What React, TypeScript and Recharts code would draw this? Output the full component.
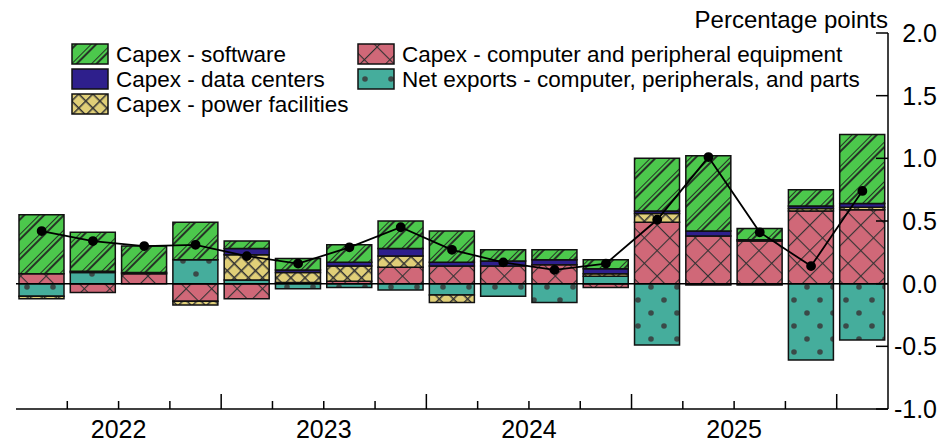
import { ComposedChart, Bar, Line, XAxis, YAxis, ReferenceLine } from "recharts";

const quarters = ["2022Q1","2022Q2","2022Q3","2022Q4","2023Q1","2023Q2","2023Q3","2023Q4","2024Q1","2024Q2","2024Q3","2024Q4","2025Q1","2025Q2","2025Q3","2025Q4","2026Q1"];
const computer = [0.08,-0.07,0.08,-0.14,-0.12,0.01,0.02,0.13,0.14,0.14,0.15,-0.03,0.49,0.38,0.34,0.58,0.59];
const netExports = [-0.1,0.09,0.01,0.19,0.03,-0.04,-0.03,-0.05,-0.09,-0.1,-0.15,0.06,-0.49,-0.01,-0.01,-0.61,-0.45];
const power = [-0.02,0,0,-0.03,0.2,0.08,0.12,0.09,-0.06,0,0,0.02,0.07,0,0,0.02,0.02];
const dataCenters = [0,0.01,0,0,0.05,0.02,0.03,0.06,0.03,0.04,0.04,0.04,0.02,0.04,0.01,0.02,0.03];
const software = [0.47,0.31,0.21,0.3,0.06,0.09,0.14,0.22,0.25,0.09,0.08,0.07,0.42,0.6,0.09,0.13,0.55];
const total = [0.42,0.34,0.3,0.31,0.22,0.16,0.29,0.45,0.27,0.17,0.11,0.16,0.51,1.01,0.41,0.14,0.74];
const yTicks = [-1, -0.5, 0, 0.5, 1, 1.5, 2];

const data = quarters.map((q, i) => ({
  q, computer: computer[i], netExports: netExports[i], power: power[i],
  dataCenters: dataCenters[i], software: software[i], total: total[i],
}));

const W = 930, H = 436;
const PL = 8, PR = 880, PB = 401;
const BW = (PR - PL) / quarters.length;
const FONT = "'Liberation Sans', Arial, sans-serif";

function Patterns() {
  return (
    <defs>
      <pattern id="pSoft" patternUnits="userSpaceOnUse" width="14" height="14" patternTransform="rotate(45)">
        <rect width="14" height="14" fill="#4cc84c" />
        <line x1="0" y1="0" x2="0" y2="14" stroke="#263326" strokeWidth="2" />
        <line x1="4" y1="0" x2="4" y2="14" stroke="#263326" strokeWidth="2" />
      </pattern>
      <pattern id="pPower" patternUnits="userSpaceOnUse" width="10" height="10" patternTransform="rotate(45)">
        <rect width="10" height="10" fill="#e0cf78" />
        <line x1="0" y1="0" x2="0" y2="10" stroke="#333" strokeWidth="3" />
        <line x1="0" y1="0" x2="10" y2="0" stroke="#333" strokeWidth="3" />
      </pattern>
      <pattern id="pComp" patternUnits="userSpaceOnUse" width="18" height="18" patternTransform="rotate(45)">
        <rect width="18" height="18" fill="#d06878" />
        <line x1="0" y1="0" x2="0" y2="18" stroke="#333" strokeWidth="2.2" />
        <line x1="0" y1="0" x2="18" y2="0" stroke="#333" strokeWidth="2.2" />
      </pattern>
      <pattern id="pNet" patternUnits="userSpaceOnUse" width="26" height="26">
        <rect width="26" height="26" fill="#45ad9c" />
        <circle cx="6" cy="6" r="2.8" fill="#3a4a48" />
        <circle cx="19" cy="19" r="2.8" fill="#3a4a48" />
      </pattern>
    </defs>
  );
}

const XTick = (props: any) => {
  const i = props.payload.index;
  const x = props.x - BW / 2;
  const major = i % 4 === 0 && i > 0;
  return (
    <g>
      {i > 0 && <line x1={x} x2={x} y1={PB} y2={PB - (major ? 15 : 8)} stroke="#000" strokeWidth={1.5} />}
      {i % 4 === 2 && (
        <text x={x} y={PB + 29} textAnchor="middle" fontFamily={FONT} fontSize={25} fill="#000">
          {quarters[i].slice(0, 4)}
        </text>
      )}
    </g>
  );
};

const RTick = (props: any) => (
  <g>
    <line x1={PR} x2={PR - 12} y1={props.y} y2={props.y} stroke="#000" strokeWidth={1.5} />
    <text x={W - 1} y={props.y + 9} textAnchor="end" fontFamily={FONT} fontSize={25} fill="#000">
      {props.payload.value.toFixed(1)}
    </text>
  </g>
);

const LTick = (props: any) => (
  <line x1={PL} x2={PL + 12} y1={props.y} y2={props.y} stroke="#000" strokeWidth={1.5} />
);

const legendItems = [
  { label: "Capex - software", fill: "url(#pSoft)", x: 72, y: 44 },
  { label: "Capex - data centers", fill: "#2e1f8c", x: 72, y: 69 },
  { label: "Capex - power facilities", fill: "url(#pPower)", x: 72, y: 94 },
  { label: "Capex - computer and peripheral equipment", fill: "url(#pComp)", x: 358, y: 44 },
  { label: "Net exports - computer, peripherals, and parts", fill: "url(#pNet)", x: 358, y: 69 },
];

export default function App() {
  const seg = (key: string, fill: string) => (
    <Bar dataKey={key} stackId="a" fill={fill} stroke="#111" strokeWidth={1.5} isAnimationActive={false} />
  );
  return (
    <div style={{ position: "relative", width: W, height: H, fontFamily: FONT }}>
      <ComposedChart width={W} height={H} data={data} stackOffset="sign" barCategoryGap={3}
        style={{ overflow: "visible" }}
        margin={{ top: 25, right: 0, left: PL, bottom: 5 }}>
        <Patterns />
        <XAxis dataKey="q" height={30} interval={0} tickLine={false} tickSize={0} tick={XTick} axisLine={{ stroke: "#000", strokeWidth: 1.5 }} />
        <YAxis yAxisId="r" orientation="right" width={50} domain={[-1, 2]} ticks={yTicks} tickLine={false} tick={RTick} axisLine={{ stroke: "#000", strokeWidth: 1.5 }} />
        <YAxis yAxisId="l" orientation="left" width={0} domain={[-1, 2]} ticks={yTicks} tickLine={false} tick={LTick} axisLine={{ stroke: "#000", strokeWidth: 1.5 }} />
        {[
          seg("computer", "url(#pComp)"),
          seg("netExports", "url(#pNet)"),
          seg("power", "url(#pPower)"),
          seg("dataCenters", "#2e1f8c"),
          seg("software", "url(#pSoft)"),
        ].map((b, i) => <b.type key={i} {...b.props} yAxisId="r" />)}
        <ReferenceLine y={0} yAxisId="r" stroke="#000" strokeWidth={1.5} />
        <Line yAxisId="r" dataKey="total" stroke="#000" strokeWidth={1.8} dot={{ r: 4, fill: "#000", stroke: "#000" }} isAnimationActive={false} />
        {legendItems.map((it) => (
          <g key={it.label}>
            <rect x={it.x - 8} y={it.y - 8} width={36} height={20} fill={it.fill} stroke="#111" strokeWidth={1.5} />
            <text x={it.x + 36} y={it.y + 10} fontFamily={FONT} fontSize={22.5} fill="#000">{it.label}</text>
          </g>
        ))}
        <text x={PR} y={20} textAnchor="end" fontFamily={FONT} fontSize={24} fill="#000">Percentage points</text>
      </ComposedChart>
    </div>
  );
}
